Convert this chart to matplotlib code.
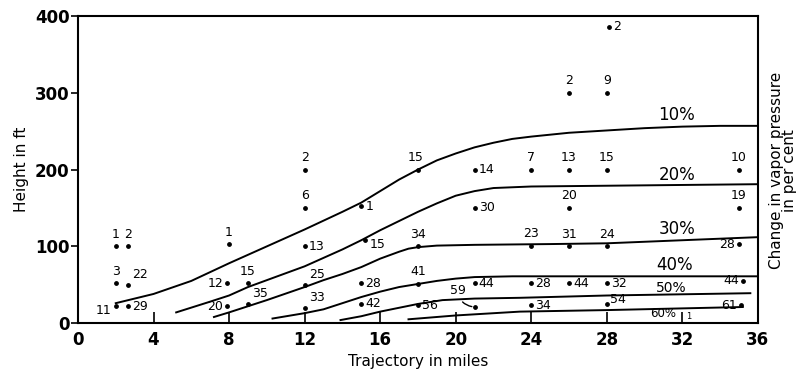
import numpy as np
import matplotlib
matplotlib.use("Agg")
import matplotlib.pyplot as plt

# puntos medidos: trayectoria (millas), altura (ft), etiqueta
pt_x = [2.0, 2.65, 2.0, 2.65, 2.0, 2.65, 8.0, 7.9, 9.0, 7.9, 9.0,
        12, 12, 12, 12, 12, 18, 15, 15.2, 18, 15, 18, 15, 18,
        21, 21, 21, 21, 24, 24, 24, 24, 26, 28, 28.1, 26, 28, 26,
        26, 28, 26, 28, 28, 35, 35, 35, 35.2, 35.1]
pt_y = [100, 100, 52, 50, 22, 22, 103, 52, 52, 22, 25,
        200, 150, 100, 50, 20, 200, 152, 108, 100, 52, 51, 25, 23,
        200, 150, 52, 21, 200, 101, 52, 23, 300, 300, 386, 200, 200, 150,
        100, 100, 52, 52, 25, 200, 150, 103, 55, 23]
pt_lab = ["1", "2", "3", "22", "11", "29", "1", "12", "15", "20", "35",
          "2", "6", "13", "25", "33", "15", "1", "15", "34", "28", "41", "42", "56",
          "14", "30", "44", "59", "7", "23", "28", "34", "2", "9", "2", "13", "15", "20",
          "31", "24", "44", "32", "54", "10", "19", "28", "44", "61"]

# donde va cada etiqueta respecto al punto (a=arriba, d=derecha, i=izquierda)
lab_pos = ["a", "a", "a", "ad", "ib", "d", "a", "i", "a", "i", "ad",
           "a", "a", "d", "ad", "ad", "ai", "d", "db", "a", "d", "a", "d", "d",
           "d", "d", "d", "x", "a", "a", "d", "d", "a", "a", "d", "a", "a", "a",
           "a", "a", "d", "d", "du", "a", "a", "i", "i", "i"]

# curvas de cambio en presion de vapor
c10_x = [2, 4, 6, 8, 10, 12, 14, 15, 16, 17, 18, 19, 20, 21, 22, 23, 24, 26, 28, 30, 32, 34, 36]
c10_y = [26, 38, 55, 78, 100, 122, 145, 157, 172, 187, 200, 212, 221, 229, 235, 240, 243, 248, 251, 254, 256, 257, 257]
c20_x = [5.2, 7, 8, 9, 10, 12, 13, 14, 15, 16, 17, 18, 19, 20, 21, 22, 24, 28, 32, 36]
c20_y = [14, 28, 36, 47, 56, 74, 85, 96, 108, 121, 133, 145, 156, 166, 172, 176, 178, 179, 180, 181]
c30_x = [7.2, 8, 9, 10, 12, 13, 14, 15, 16, 17, 17.5, 18, 19, 21, 25, 28, 32, 36]
c30_y = [8, 14, 22, 30, 47, 56, 64, 73, 84, 93, 97, 99, 101, 102, 103, 104, 108, 112]
c40_x = [10.3, 12, 13, 14, 15, 16, 17, 18, 19, 20, 21, 23, 28, 36]
c40_y = [6, 13, 18, 26, 34, 41, 47, 51, 55, 58, 60, 61, 61, 61]
c50_x = [13.9, 15, 16, 17, 18, 19.3, 21, 23.4, 28, 35.6]
c50_y = [4, 9, 15, 20, 25, 30, 32, 33, 36, 39]
c60_x = [17.5, 20, 23.4, 28, 35.2]
c60_y = [5, 10, 15, 17, 21]
curvas = [(c10_x, c10_y), (c20_x, c20_y), (c30_x, c30_y),
          (c40_x, c40_y), (c50_x, c50_y), (c60_x, c60_y)]
pct_lab = ["10%", "20%", "30%", "40%", "50%", "60%"]
pct_x = [31.7, 31.7, 31.7, 31.6, 31.4, 31.0]
pct_y = [271, 193, 122, 76, 46, 12]
pct_size = [12, 12, 12, 12, 10, 8.5]

fig = plt.figure(figsize=(8.08, 3.74), dpi=100)
ax = fig.add_axes([0.0965, 0.136, 0.8415, 0.821])

for cx, cy in curvas:
    ax.plot(cx, cy, color="black", lw=1.4)

ax.scatter(pt_x, pt_y, s=6, color="black", zorder=3)

offs = {"a": (0, 4, "center", "bottom"), "d": (3, 0, "left", "center"),
        "i": (-3, 0, "right", "center"), "ad": (3, 3, "left", "bottom"),
        "ai": (-2, 4, "center", "bottom"), "ib": (-3, -3, "right", "center"),
        "db": (3, -3, "left", "center"), "du": (2, 3, "left", "center")}
for x, y, t, p in zip(pt_x, pt_y, pt_lab, lab_pos):
    if p == "x":
        ax.annotate(t, xy=(x, y), xytext=(20.1, 34), fontsize=9,
                    ha="center", va="bottom",
                    arrowprops=dict(arrowstyle="-", color="black", lw=1,
                                    connectionstyle="arc3,rad=0.4"))
        continue
    dx, dy, ha, va = offs[p]
    ax.annotate(t, xy=(x, y), xytext=(dx, dy), textcoords="offset points",
                fontsize=9, ha=ha, va=va)

for t, x, y, s in zip(pct_lab, pct_x, pct_y, pct_size):
    ax.text(x, y, t, fontsize=s, ha="center", va="center")
# el "1" pequeno junto a 60%
ax.text(32.2, 9, "1", fontsize=6, ha="left", va="center")

ax.set_xlim(0, 36)
ax.set_ylim(0, 400)
ax.set_xticks(np.arange(0, 37, 4))
ax.set_yticks([0, 100, 200, 300, 400])
ax.tick_params(axis="x", direction="in", length=8, width=1.2, pad=6, labelsize=12)
ax.tick_params(axis="y", direction="out", length=5, width=1.2, pad=1, labelsize=12)
for lab in ax.get_xticklabels() + ax.get_yticklabels():
    lab.set_fontweight("bold")
for sp in ax.spines.values():
    sp.set_linewidth(1.5)

ax.set_xlabel("Trajectory in miles", fontsize=11, labelpad=3)
ax.set_ylabel("Height in ft", fontsize=11, labelpad=4)
fig.text(0.969, 0.545, "Change in vapor pressure\nin per cent", rotation=90,
         fontsize=11, ha="center", va="center", linespacing=0.9)

fig.savefig("out.png", dpi=100)
